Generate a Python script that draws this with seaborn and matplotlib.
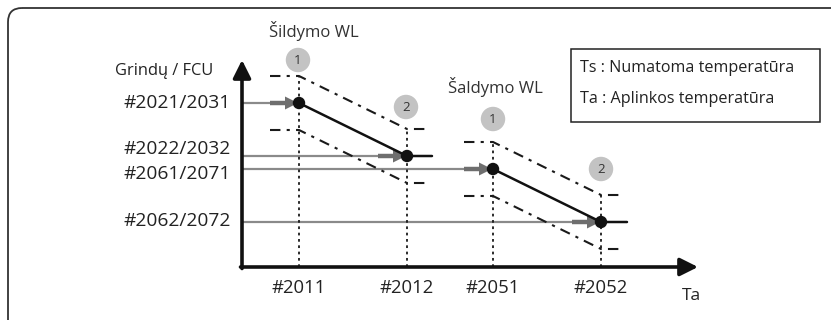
import matplotlib
matplotlib.use("Agg")
import matplotlib.pyplot as plt
from matplotlib.patches import FancyBboxPatch, Rectangle
import seaborn as sns
import pandas as pd

sns.set_theme(style="white")
plt.rcParams["font.family"] = ["Open Sans", "DejaVu Sans"]

# Axis origin and arrow tips (diagram units, 1 unit = 1 px)
origin_x, origin_y = 242, 267
x_tip, y_tip = 698, 60

# Outdoor temperature (Ta) setpoints on the x axis
ta_labels = ["#2011", "#2012", "#2051", "#2052"]
ta_pos = [299, 407, 493, 601]

# Water-outlet setpoints on the y axis
ts_labels = ["#2021/2031", "#2022/2032", "#2061/2071", "#2062/2072"]
ts_pos = [103, 156, 169, 222]
ts_label_pos = [103, 149, 174, 221]

# Weather-dependent curves: point 1 -> point 2, then flat tail
curve_names = ["Šildymo WL", "Šaldymo WL"]
curve_x = [[299, 407, 432], [493, 601, 627]]
curve_y = [[103, 156, 156], [169, 222, 222]]
band_offset = 27
band_lead = 29     # flat part of the band before point 1
band_tail = 21     # flat part of the band after point 2

badge_x = [[298, 406], [493, 601]]
badge_y = [[60, 107], [119, 169]]
title_xy = [(314, 31), (495, 87)]

legend_lines = ["Ts : Numatoma temperatūra", "Ta : Aplinkos temperatūra"]

fig = plt.figure(figsize=(8.31, 3.2), dpi=100)
ax = fig.add_axes([0, 0, 1, 1])
ax.set_xlim(0, 831)
ax.set_ylim(320, 0)
ax.axis("off")

# rounded outer frame
ax.add_patch(FancyBboxPatch((8, 8), 840, 330, boxstyle="round,pad=0,rounding_size=14",
                            fill=False, ec="#333333", lw=1.3, zorder=1))

dash_dot = (0, (5, 3, 1.5, 3))
dotted = (0, (1.5, 2))

# gray input arrows from the y axis to each curve point
arrow_targets = [(curve_x[0][0], ts_pos[0]), (curve_x[0][1], ts_pos[1]),
                 (curve_x[1][0], ts_pos[2]), (curve_x[1][1], ts_pos[3])]
for tx, ty in arrow_targets:
    ax.plot([origin_x, tx], [ty, ty], color="#8a8a8a", lw=1.6, zorder=2,
            solid_capstyle="butt")
    ax.plot([tx - 29, tx - 13], [ty, ty], color="#6e6e6e", lw=3.2, zorder=3,
            solid_capstyle="butt")
    ax.fill([tx - 14, tx - 14, tx - 1], [ty - 6.5, ty + 6.5, ty], color="#6e6e6e",
            lw=0, zorder=3)

for ci in range(2):
    xs, ys = curve_x[ci], curve_y[ci]
    x1, x2 = xs[0], xs[1]
    y1, y2 = ys[0], ys[1]
    # tolerance band around the curve
    for sgn in (-1, 1):
        bx = [x1 - band_lead, x1, x2, x2 + band_tail]
        by = [y1 + sgn * band_offset, y1 + sgn * band_offset,
              y2 + sgn * band_offset, y2 + sgn * band_offset]
        ax.plot(bx, by, color="#1a1a1a", lw=1.5, ls=dash_dot, zorder=2)
    # vertical guide lines from the x axis to the upper band
    ax.plot([x1, x1], [origin_y, y1 - band_offset], color="#1a1a1a", lw=1.3, ls=dotted, zorder=2)
    ax.plot([x2, x2], [origin_y, y2 - band_offset], color="#1a1a1a", lw=1.3, ls=dotted, zorder=2)
    # the curve itself
    df = pd.DataFrame({"x": xs, "y": ys})
    sns.lineplot(data=df, x="x", y="y", ax=ax, color="#111111", lw=1.8, sort=False,
                 estimator=None, zorder=4)
    pts = pd.DataFrame({"x": xs[:2], "y": ys[:2]})
    sns.scatterplot(data=pts, x="x", y="y", ax=ax, color="#111111", s=80,
                    edgecolor="none", zorder=5)
    # numbered badges
    for k in range(2):
        ax.scatter(badge_x[ci][k], badge_y[ci][k], s=310, color="#c3c3c3",
                   edgecolor="none", zorder=3)
        ax.text(badge_x[ci][k], badge_y[ci][k] + 0.5, str(k + 1), ha="center",
                va="center", fontsize=9.5, color="#333333", zorder=4)
    ax.text(title_xy[ci][0], title_xy[ci][1], curve_names[ci], ha="center",
            va="center", fontsize=12, color="#333333")

# axes with arrowheads
ax.annotate("", xy=(x_tip, origin_y), xytext=(origin_x - 1.5, origin_y),
            arrowprops=dict(arrowstyle="-|>,head_length=0.9,head_width=0.45",
                            lw=2.6, color="#111111", shrinkA=0, shrinkB=0), zorder=6)
ax.annotate("", xy=(origin_x, y_tip), xytext=(origin_x, origin_y + 1.5),
            arrowprops=dict(arrowstyle="-|>,head_length=0.9,head_width=0.45",
                            lw=2.6, color="#111111", shrinkA=0, shrinkB=0), zorder=6)

# tick labels
for lab, yp in zip(ts_labels, ts_label_pos):
    ax.text(231, yp, lab, ha="right", va="center", fontsize=13.8, color="#222222")
for lab, xp in zip(ta_labels, ta_pos):
    ax.text(xp, 288, lab, ha="center", va="center", fontsize=13.3, color="#222222")
ax.text(213, 71, "Grindų / FCU", ha="right", va="center", fontsize=11.8, color="#222222")
ax.text(691, 296, "Ta", ha="center", va="center", fontsize=12.5, color="#222222")

# definitions box
ax.add_patch(Rectangle((571, 49), 249, 73, fill=False, ec="#222222", lw=1.1, zorder=2))
ax.text(580, 68, legend_lines[0], ha="left", va="center", fontsize=11.6, color="#222222")
ax.text(580, 99, legend_lines[1], ha="left", va="center", fontsize=11.6, color="#222222")

fig.savefig("out.png", dpi=100)
